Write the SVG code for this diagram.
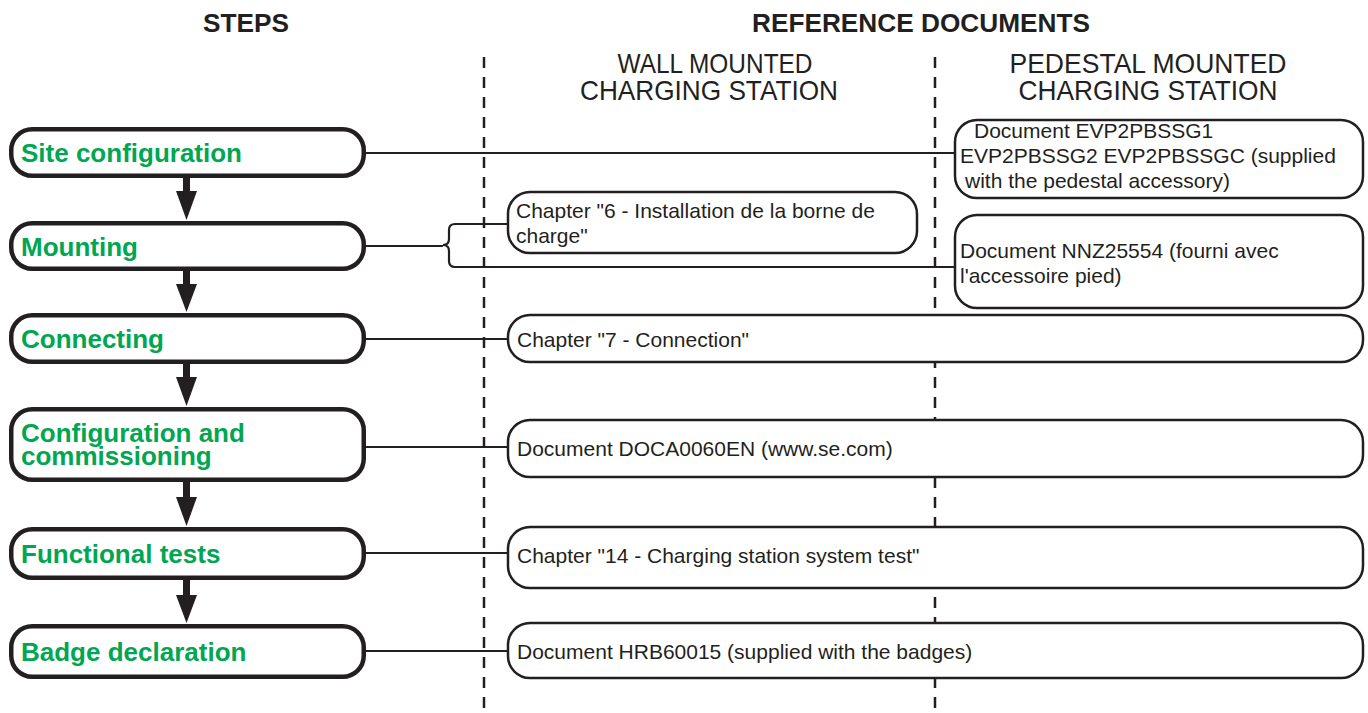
<svg xmlns="http://www.w3.org/2000/svg" width="1368" height="713" viewBox="0 0 1368 713">
<style>
.bg{fill:#ffffff}
.step{fill:#ffffff;stroke:#231f20;stroke-width:4.5}
.doc{fill:#ffffff;stroke:#231f20;stroke-width:2.5}
.steptxt{font-family:"Liberation Sans",Arial,sans-serif;font-weight:bold;font-size:26px;fill:#00a651}
.doctxt{font-family:"Liberation Sans",Arial,sans-serif;font-size:21px;fill:#231f20}
.head{font-family:"Liberation Sans",Arial,sans-serif;font-weight:bold;font-size:25px;fill:#231f20}
.col{font-family:"Liberation Sans",Arial,sans-serif;font-size:28px;fill:#231f20}
.conn{fill:none;stroke:#231f20;stroke-width:2.2}
.dash{fill:none;stroke:#231f20;stroke-width:2.5;stroke-dasharray:11 9}
.arr{fill:#231f20}
</style>
<rect class="bg" x="0" y="0" width="1368" height="713"/>

<g id="headers">
<text class="head" x="246" y="32" text-anchor="middle" textLength="86" lengthAdjust="spacingAndGlyphs">STEPS</text>
<text class="head" x="921" y="32" text-anchor="middle" textLength="338" lengthAdjust="spacingAndGlyphs">REFERENCE DOCUMENTS</text>
<text class="col" x="715" y="73" text-anchor="middle" textLength="195" lengthAdjust="spacingAndGlyphs">WALL MOUNTED</text>
<text class="col" x="709" y="100" text-anchor="middle" textLength="258" lengthAdjust="spacingAndGlyphs">CHARGING STATION</text>
<text class="col" x="1148" y="73" text-anchor="middle" textLength="277" lengthAdjust="spacingAndGlyphs">PEDESTAL MOUNTED</text>
<text class="col" x="1148" y="100" text-anchor="middle" textLength="259" lengthAdjust="spacingAndGlyphs">CHARGING STATION</text>
</g>

<g id="separators">
<line class="dash" x1="484" y1="57" x2="484" y2="713"/>
<line class="dash" x1="935" y1="57" x2="935" y2="713"/>
</g>

<g id="connectors">
<line class="conn" x1="366" y1="153" x2="955" y2="153"/>
<path class="conn" d="M366 246 H443 M508 224 H455 Q449 224 449 230 V239 Q449 245 443 245 Q449 245 449 251 V261 Q449 267 455 267 H955"/>
<line class="conn" x1="366" y1="339" x2="508" y2="339"/>
<line class="conn" x1="366" y1="447" x2="508" y2="447"/>
<line class="conn" x1="366" y1="553" x2="508" y2="553"/>
<line class="conn" x1="366" y1="651" x2="508" y2="651"/>
<rect class="arr" x="183" y="178" width="7" height="14"/>
<polygon class="arr" points="176,191 197,191 186.5,220"/>
<rect class="arr" x="183" y="271" width="7" height="14"/>
<polygon class="arr" points="176,284 197,284 186.5,312"/>
<rect class="arr" x="183" y="364" width="7" height="14"/>
<polygon class="arr" points="176,377 197,377 186.5,406"/>
<rect class="arr" x="183" y="482" width="7" height="16"/>
<polygon class="arr" points="176,497 197,497 186.5,526"/>
<rect class="arr" x="183" y="580" width="7" height="16"/>
<polygon class="arr" points="176,595 197,595 186.5,623"/>
</g>

<g id="step-site">
<rect class="step" x="11.25" y="129.25" width="352.5" height="46.5" rx="21"/>
<text class="steptxt" x="21" y="162">Site configuration</text>
</g>
<g id="step-mounting">
<rect class="step" x="11.25" y="223.25" width="352.5" height="45.5" rx="21"/>
<text class="steptxt" x="21" y="256">Mounting</text>
</g>
<g id="step-connecting">
<rect class="step" x="11.25" y="315.25" width="352.5" height="46.5" rx="21"/>
<text class="steptxt" x="21" y="348">Connecting</text>
</g>
<g id="step-config">
<rect class="step" x="11.25" y="409.25" width="352.5" height="70.5" rx="21"/>
<text class="steptxt" x="21" y="442">Configuration and</text>
<text class="steptxt" x="21" y="465">commissioning</text>
</g>
<g id="step-functional">
<rect class="step" x="11.25" y="529.25" width="352.5" height="48.5" rx="21"/>
<text class="steptxt" x="21" y="563">Functional tests</text>
</g>
<g id="step-badge">
<rect class="step" x="11.25" y="626.25" width="352.5" height="50.5" rx="21"/>
<text class="steptxt" x="21" y="661">Badge declaration</text>
</g>

<g id="doc-pedestal-site">
<rect class="doc" x="955" y="120" width="408" height="78" rx="22"/>
<text class="doctxt" x="974" y="138">Document EVP2PBSSG1</text>
<text class="doctxt" x="960" y="163">EVP2PBSSG2 EVP2PBSSGC (supplied</text>
<text class="doctxt" x="965" y="188">with the pedestal accessory)</text>
</g>
<g id="doc-wall-mounting">
<rect class="doc" x="508" y="192" width="409" height="61" rx="22"/>
<text class="doctxt" x="516" y="218">Chapter "6 - Installation de la borne de</text>
<text class="doctxt" x="516" y="243">charge"</text>
</g>
<g id="doc-pedestal-mounting">
<rect class="doc" x="955" y="215" width="408" height="93" rx="22"/>
<text class="doctxt" x="960" y="258">Document NNZ25554 (fourni avec</text>
<text class="doctxt" x="960" y="283">l'accessoire pied)</text>
</g>
<g id="doc-connecting">
<rect class="doc" x="508" y="315" width="855" height="47" rx="22"/>
<text class="doctxt" x="517" y="347">Chapter "7 - Connection"</text>
</g>
<g id="doc-config">
<rect class="doc" x="508" y="420" width="855" height="57" rx="22"/>
<text class="doctxt" x="517" y="456">Document DOCA0060EN (www.se.com)</text>
</g>
<g id="doc-functional">
<rect class="doc" x="508" y="527" width="855" height="61" rx="22"/>
<text class="doctxt" x="517" y="563">Chapter "14 - Charging station system test"</text>
</g>
<g id="doc-badge">
<rect class="doc" x="508" y="623" width="855" height="55" rx="22"/>
<text class="doctxt" x="517" y="659">Document HRB60015 (supplied with the badges)</text>
</g>
</svg>
